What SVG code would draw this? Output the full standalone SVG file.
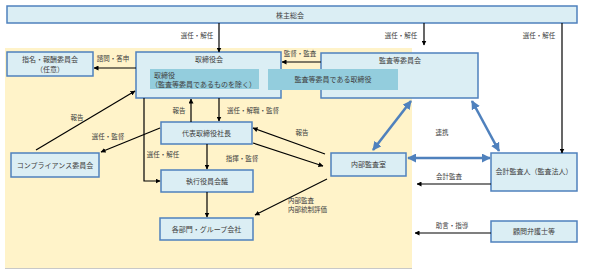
<svg xmlns="http://www.w3.org/2000/svg" width="597" height="273" viewBox="0 0 597 273">
<defs>
<style>
.box{fill:#DBEEF4;stroke:#4F81BD;stroke-width:1.5}
.inner{fill:#93CDDD;stroke:none}
.t{font-family:"Noto Sans CJK JP","Noto Sans",sans-serif;font-size:7px;fill:#404040}
.l{font-family:"Noto Sans CJK JP","Noto Sans",sans-serif;font-size:6.5px;fill:#404040}
.c{text-anchor:middle}
.ln{stroke:#000;stroke-width:1.2;fill:none;marker-end:url(#ah)}
.bl{stroke:#4F81BD;stroke-width:2.6;fill:none;marker-start:url(#bh);marker-end:url(#bh)}
</style>
<marker id="ah" viewBox="0 0 10 10" refX="9" refY="5" markerWidth="5" markerHeight="5" markerUnits="userSpaceOnUse" orient="auto"><path d="M0,0 L10,5 L0,10 z" fill="#000"/></marker>
<marker id="bh" viewBox="0 0 10 10" refX="9" refY="5" markerWidth="9" markerHeight="9" markerUnits="userSpaceOnUse" orient="auto-start-reverse"><path d="M0,0 L10,5 L0,10 z" fill="#4F81BD"/></marker>
</defs>
<rect x="0" y="0" width="597" height="273" fill="#fff"/>
<rect x="5" y="48" width="407" height="220" fill="#FFF3C9"/>
<line x1="5" y1="268.5" x2="412" y2="268.5" stroke="#c8c8c8" stroke-width="1"/>

<g id="kabunushi"><rect class="box" x="7" y="6" width="570" height="17"/><text class="t c" x="290" y="17.5">株主総会</text></g>

<g id="shimei"><rect class="box" x="7" y="52" width="86" height="24"/><text class="t c" x="50" y="62">指名・報酬委員会</text><text class="t c" x="50" y="72">（任意）</text></g>

<g id="torishimariyakukai"><rect class="box" x="136" y="52" width="145" height="46"/><text class="t c" x="209" y="62">取締役会</text>
<rect class="inner" x="150" y="69" width="109" height="20"/><text class="t" x="154" y="77.5">取締役</text><text class="t" x="151" y="86.5">（監査等委員であるものを除く）</text></g>

<g id="kansakai"><rect class="box" x="321" y="53" width="157" height="45"/><text class="t c" x="400" y="63">監査等委員会</text></g>

<g id="kansatorishimari"><rect class="inner" x="268" y="69" width="130" height="21"/><text class="t c" x="333" y="82">監査等委員である取締役</text></g>

<g id="compliance"><rect class="box" x="11" y="153" width="88" height="24"/><text class="t c" x="55" y="167.5">コンプライアンス委員会</text></g>

<g id="daihyo"><rect class="box" x="161" y="122" width="91" height="22"/><text class="t c" x="206.5" y="135.5">代表取締役社長</text></g>

<g id="shikko"><rect class="box" x="161" y="170" width="92" height="22"/><text class="t c" x="207" y="183.5">執行役員会議</text></g>

<g id="kakubumon"><rect class="box" x="160" y="218" width="93" height="22"/><text class="t c" x="206.5" y="231.5">各部門・グループ会社</text></g>

<g id="naibukansa"><rect class="box" x="331" y="153" width="75" height="23"/><text class="t c" x="368.5" y="167">内部監査室</text></g>

<g id="kaikei"><rect class="box" x="491" y="153" width="86" height="38"/><text class="t c" x="534" y="174">会計監査人（監査法人）</text></g>

<g id="komon"><rect class="box" x="491" y="221" width="86" height="21"/><text class="t c" x="534" y="234">顧問弁護士等</text></g>

<g id="connectors">
<line class="ln" x1="219" y1="23" x2="219" y2="52"/>
<line class="ln" x1="424" y1="23" x2="424" y2="45"/>
<line class="ln" x1="562" y1="23" x2="562" y2="153"/>
<line class="ln" x1="321" y1="62" x2="282" y2="62"/>
<line class="ln" x1="136" y1="68" x2="94" y2="68"/>
<line class="ln" x1="36" y1="150" x2="135" y2="91"/>
<line class="ln" x1="160" y1="128" x2="101" y2="152"/>
<line class="ln" x1="191" y1="122" x2="191" y2="99"/>
<line class="ln" x1="219" y1="98" x2="219" y2="121"/>
<polyline class="ln" points="144,98 144,181 160,181"/>
<line class="ln" x1="207" y1="144" x2="207" y2="169"/>
<line class="ln" x1="207" y1="192" x2="207" y2="217"/>
<line class="ln" x1="325" y1="154" x2="253" y2="128"/>
<line class="ln" x1="253" y1="143" x2="323" y2="166"/>
<line class="ln" x1="327" y1="179" x2="255" y2="215"/>
<line class="ln" x1="491" y1="184" x2="417" y2="184"/>
<line class="ln" x1="491" y1="233" x2="415" y2="233"/>
<line class="bl" x1="411" y1="101" x2="373" y2="150"/>
<line class="bl" x1="472" y1="101" x2="499" y2="151"/>
<line class="bl" x1="408" y1="158" x2="490" y2="158"/>
</g>

<g id="labels">
<text class="l c" x="197" y="37.5">選任・解任</text>
<text class="l c" x="401" y="37.5">選任・解任</text>
<text class="l c" x="539" y="37.5">選任・解任</text>
<text class="l c" x="300" y="56">監督・監査</text>
<text class="l c" x="113" y="61">諮問・答申</text>
<text class="l c" x="77" y="120">報告</text>
<text class="l c" x="108" y="138.5">選任・監督</text>
<text class="l c" x="179" y="112.5">報告</text>
<text class="l c" x="253" y="112.5">選任・解職・監督</text>
<text class="l c" x="163" y="156.5">選任・解任</text>
<text class="l c" x="242" y="160.5">指揮・監督</text>
<text class="l c" x="302" y="135">報告</text>
<text class="l" x="288" y="203">内部監査</text>
<text class="l" x="288" y="211.5">内部統制評価</text>
<text class="l c" x="442" y="134.5">連携</text>
<text class="l c" x="449" y="178.5">会計監査</text>
<text class="l c" x="452" y="227.5">助言・指導</text>
</g>
</svg>
